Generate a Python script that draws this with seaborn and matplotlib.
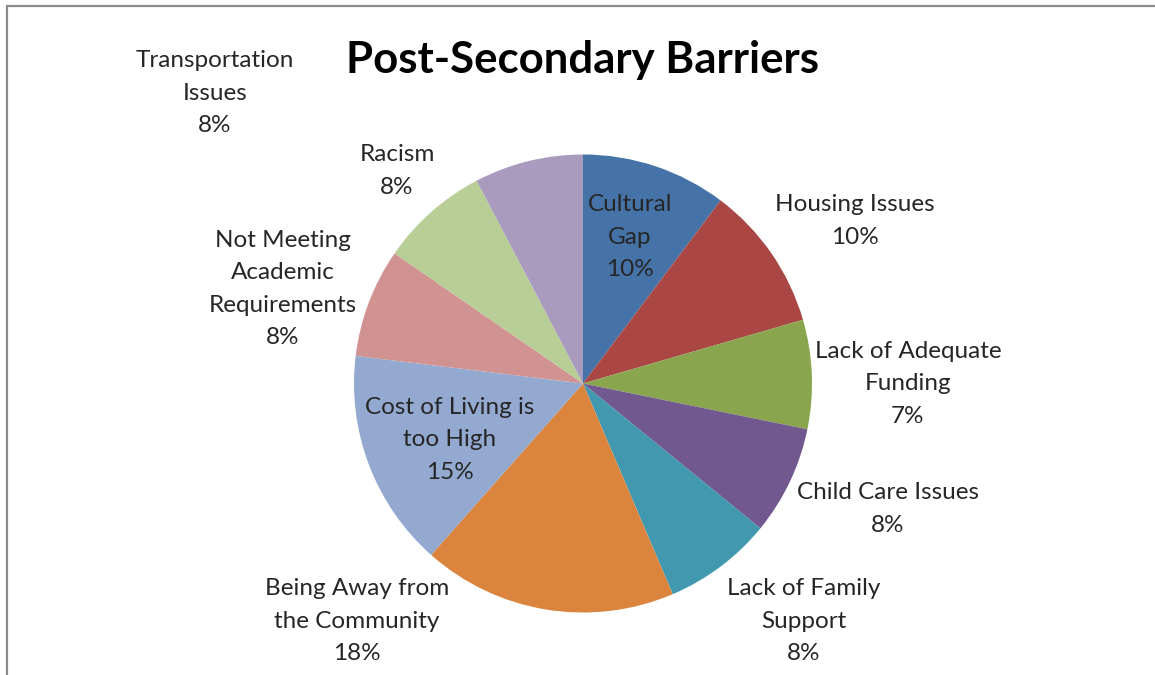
import matplotlib
matplotlib.use("Agg")
import matplotlib.pyplot as plt
from matplotlib.lines import Line2D
import seaborn as sns

# ---- data ----
categories = ["Cultural\nGap", "Housing Issues", "Lack of Adequate\nFunding",
              "Child Care Issues", "Lack of Family\nSupport",
              "Being Away from\nthe Community", "Cost of Living is\ntoo High",
              "Not Meeting\nAcademic\nRequirements", "Racism",
              "Transportation\nIssues"]
counts = [4, 4, 3, 3, 3, 7, 6, 3, 3, 3]
pct_labels = ["10%", "10%", "7%", "8%", "8%", "18%", "15%", "8%", "8%", "8%"]
colors = ["#4572A7", "#AA4643", "#89A54E", "#71588F", "#4198AF",
          "#DB843D", "#93A9CF", "#D19392", "#B9CD96", "#A99BBD"]
title = "Post-Secondary Barriers"

# label block centres in pixels (layout)
label_px = [(630, 237), (855, 221), (908, 384), (888, 509), (804, 621),
            (357, 621), (450, 440), (283, 289), (397, 171), (215, 93)]

sns.set_theme(style="white")
plt.rcParams['font.family'] = ['Lato', 'DejaVu Sans']

W, H = 1155, 675
fig = plt.figure(figsize=(W / 100, H / 100), dpi=100)
fig.patch.set_facecolor("white")

cx, cy, r = 583, 383.5, 229
ax = fig.add_axes([(cx - r) / W, (H - cy - r) / H, 2 * r / W, 2 * r / H])
wedges, _ = ax.pie(counts, colors=colors, startangle=90, counterclock=False,
                   radius=1, wedgeprops=dict(linewidth=0))
ax.set_xlim(-1, 1)
ax.set_ylim(-1, 1)
ax.axis("off")

for cat, pct, (px, py) in zip(categories, pct_labels, label_px):
    fig.text(px / W, 1 - py / H, f"{cat}\n{pct}", ha="center", va="center",
             fontsize=17.5, color="#262626", linespacing=1.66)

fig.text(583 / W, 1 - 60 / H, title, ha="center", va="center",
         fontsize=31.5, fontweight="bold", color="black")

# chart frame (top and left visible)
fig.add_artist(Line2D([7 / W, 1], [1 - 6 / H, 1 - 6 / H], color="#8c8c8c", lw=1.6,
                      transform=fig.transFigure))
fig.add_artist(Line2D([7 / W, 7 / W], [0, 1 - 6 / H], color="#8c8c8c", lw=1.6,
                      transform=fig.transFigure))

fig.savefig("out.png", dpi=100)
